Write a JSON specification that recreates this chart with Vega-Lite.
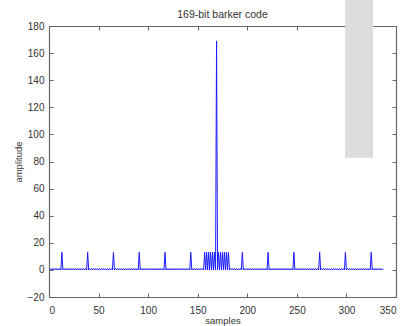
{
 "$schema": "https://vega.github.io/schema/vega-lite/v6.json",
 "width": 347, "height": 271,
 "autosize": {"type": "none"},
 "padding": {"left": 49, "top": 26, "right": 8, "bottom": 29},
 "background": "white",
 "title": {"text": "169-bit barker code", "fontSize": 10.5, "font": "Liberation Sans", "color": "#333333", "fontWeight": "normal", "offset": 0, "dy": 22},
 "config": {
  "view": {"stroke": null},
  "axis": {"domainColor": "#666666", "domainWidth": 1.2, "tickColor": "#666666", "tickSize": -4, "labelPadding": 9, "labelFont": "Liberation Sans", "labelFontSize": 10, "labelColor": "#333333", "titleFont": "Liberation Sans", "titleFontSize": 9.5, "titleFontWeight": "normal", "titleColor": "#333333", "grid": false, "zindex": 1}
 },
 "layer": [
  {
   "data": {"values": [{"x1": 298.6, "x2": 326.8, "y1": 82.7, "y2": 200}]},
   "mark": {"type": "rect", "color": "#dcdcdc", "clip": false},
   "encoding": {
    "x": {"field": "x1", "type": "quantitative", "scale": {"domain": [0, 350], "nice": false}, "axis": {"orient": "top", "labels": false, "title": null, "values": [0, 50, 100, 150, 200, 250, 300, 350]}},
    "x2": {"field": "x2"},
    "y": {"field": "y1", "type": "quantitative", "scale": {"domain": [-20, 180], "nice": false}, "axis": {"orient": "right", "labels": false, "title": null, "values": [-20, 0, 20, 40, 60, 80, 100, 120, 140, 160, 180]}},
    "y2": {"field": "y2"}
   }
  },
  {
   "data": {"values": [
{"x":1,"y":1},{"x":2,"y":0},{"x":3,"y":1},{"x":4,"y":0},{"x":5,"y":1},{"x":6,"y":0},{"x":7,"y":1},{"x":8,"y":0},{"x":9,"y":1},{"x":10,"y":0},
{"x":11,"y":1},{"x":12,"y":0},{"x":13,"y":13},{"x":14,"y":0},{"x":15,"y":1},{"x":16,"y":0},{"x":17,"y":1},{"x":18,"y":0},{"x":19,"y":1},{"x":20,"y":0},
{"x":21,"y":1},{"x":22,"y":0},{"x":23,"y":1},{"x":24,"y":0},{"x":25,"y":1},{"x":26,"y":0},{"x":27,"y":1},{"x":28,"y":0},{"x":29,"y":1},{"x":30,"y":0},
{"x":31,"y":1},{"x":32,"y":0},{"x":33,"y":1},{"x":34,"y":0},{"x":35,"y":1},{"x":36,"y":0},{"x":37,"y":1},{"x":38,"y":0},{"x":39,"y":13},{"x":40,"y":0},
{"x":41,"y":1},{"x":42,"y":0},{"x":43,"y":1},{"x":44,"y":0},{"x":45,"y":1},{"x":46,"y":0},{"x":47,"y":1},{"x":48,"y":0},{"x":49,"y":1},{"x":50,"y":0},
{"x":51,"y":1},{"x":52,"y":0},{"x":53,"y":1},{"x":54,"y":0},{"x":55,"y":1},{"x":56,"y":0},{"x":57,"y":1},{"x":58,"y":0},{"x":59,"y":1},{"x":60,"y":0},
{"x":61,"y":1},{"x":62,"y":0},{"x":63,"y":1},{"x":64,"y":0},{"x":65,"y":13},{"x":66,"y":0},{"x":67,"y":1},{"x":68,"y":0},{"x":69,"y":1},{"x":70,"y":0},
{"x":71,"y":1},{"x":72,"y":0},{"x":73,"y":1},{"x":74,"y":0},{"x":75,"y":1},{"x":76,"y":0},{"x":77,"y":1},{"x":78,"y":0},{"x":79,"y":1},{"x":80,"y":0},
{"x":81,"y":1},{"x":82,"y":0},{"x":83,"y":1},{"x":84,"y":0},{"x":85,"y":1},{"x":86,"y":0},{"x":87,"y":1},{"x":88,"y":0},{"x":89,"y":1},{"x":90,"y":0},
{"x":91,"y":13},{"x":92,"y":0},{"x":93,"y":1},{"x":94,"y":0},{"x":95,"y":1},{"x":96,"y":0},{"x":97,"y":1},{"x":98,"y":0},{"x":99,"y":1},{"x":100,"y":0},
{"x":101,"y":1},{"x":102,"y":0},{"x":103,"y":1},{"x":104,"y":0},{"x":105,"y":1},{"x":106,"y":0},{"x":107,"y":1},{"x":108,"y":0},{"x":109,"y":1},{"x":110,"y":0},
{"x":111,"y":1},{"x":112,"y":0},{"x":113,"y":1},{"x":114,"y":0},{"x":115,"y":1},{"x":116,"y":0},{"x":117,"y":13},{"x":118,"y":0},{"x":119,"y":1},{"x":120,"y":0},
{"x":121,"y":1},{"x":122,"y":0},{"x":123,"y":1},{"x":124,"y":0},{"x":125,"y":1},{"x":126,"y":0},{"x":127,"y":1},{"x":128,"y":0},{"x":129,"y":1},{"x":130,"y":0},
{"x":131,"y":1},{"x":132,"y":0},{"x":133,"y":1},{"x":134,"y":0},{"x":135,"y":1},{"x":136,"y":0},{"x":137,"y":1},{"x":138,"y":0},{"x":139,"y":1},{"x":140,"y":0},
{"x":141,"y":1},{"x":142,"y":0},{"x":143,"y":13},{"x":144,"y":0},{"x":145,"y":1},{"x":146,"y":0},{"x":147,"y":1},{"x":148,"y":0},{"x":149,"y":1},{"x":150,"y":0},
{"x":151,"y":1},{"x":152,"y":0},{"x":153,"y":1},{"x":154,"y":0},{"x":155,"y":1},{"x":156,"y":0},{"x":157,"y":13},{"x":158,"y":0},{"x":159,"y":13},{"x":160,"y":0},
{"x":161,"y":13},{"x":162,"y":0},{"x":163,"y":13},{"x":164,"y":0},{"x":165,"y":13},{"x":166,"y":0},{"x":167,"y":13},{"x":168,"y":0},{"x":169,"y":169},{"x":170,"y":0},
{"x":171,"y":13},{"x":172,"y":0},{"x":173,"y":13},{"x":174,"y":0},{"x":175,"y":13},{"x":176,"y":0},{"x":177,"y":13},{"x":178,"y":0},{"x":179,"y":13},{"x":180,"y":0},
{"x":181,"y":13},{"x":182,"y":0},{"x":183,"y":1},{"x":184,"y":0},{"x":185,"y":1},{"x":186,"y":0},{"x":187,"y":1},{"x":188,"y":0},{"x":189,"y":1},{"x":190,"y":0},
{"x":191,"y":1},{"x":192,"y":0},{"x":193,"y":1},{"x":194,"y":0},{"x":195,"y":13},{"x":196,"y":0},{"x":197,"y":1},{"x":198,"y":0},{"x":199,"y":1},{"x":200,"y":0},
{"x":201,"y":1},{"x":202,"y":0},{"x":203,"y":1},{"x":204,"y":0},{"x":205,"y":1},{"x":206,"y":0},{"x":207,"y":1},{"x":208,"y":0},{"x":209,"y":1},{"x":210,"y":0},
{"x":211,"y":1},{"x":212,"y":0},{"x":213,"y":1},{"x":214,"y":0},{"x":215,"y":1},{"x":216,"y":0},{"x":217,"y":1},{"x":218,"y":0},{"x":219,"y":1},{"x":220,"y":0},
{"x":221,"y":13},{"x":222,"y":0},{"x":223,"y":1},{"x":224,"y":0},{"x":225,"y":1},{"x":226,"y":0},{"x":227,"y":1},{"x":228,"y":0},{"x":229,"y":1},{"x":230,"y":0},
{"x":231,"y":1},{"x":232,"y":0},{"x":233,"y":1},{"x":234,"y":0},{"x":235,"y":1},{"x":236,"y":0},{"x":237,"y":1},{"x":238,"y":0},{"x":239,"y":1},{"x":240,"y":0},
{"x":241,"y":1},{"x":242,"y":0},{"x":243,"y":1},{"x":244,"y":0},{"x":245,"y":1},{"x":246,"y":0},{"x":247,"y":13},{"x":248,"y":0},{"x":249,"y":1},{"x":250,"y":0},
{"x":251,"y":1},{"x":252,"y":0},{"x":253,"y":1},{"x":254,"y":0},{"x":255,"y":1},{"x":256,"y":0},{"x":257,"y":1},{"x":258,"y":0},{"x":259,"y":1},{"x":260,"y":0},
{"x":261,"y":1},{"x":262,"y":0},{"x":263,"y":1},{"x":264,"y":0},{"x":265,"y":1},{"x":266,"y":0},{"x":267,"y":1},{"x":268,"y":0},{"x":269,"y":1},{"x":270,"y":0},
{"x":271,"y":1},{"x":272,"y":0},{"x":273,"y":13},{"x":274,"y":0},{"x":275,"y":1},{"x":276,"y":0},{"x":277,"y":1},{"x":278,"y":0},{"x":279,"y":1},{"x":280,"y":0},
{"x":281,"y":1},{"x":282,"y":0},{"x":283,"y":1},{"x":284,"y":0},{"x":285,"y":1},{"x":286,"y":0},{"x":287,"y":1},{"x":288,"y":0},{"x":289,"y":1},{"x":290,"y":0},
{"x":291,"y":1},{"x":292,"y":0},{"x":293,"y":1},{"x":294,"y":0},{"x":295,"y":1},{"x":296,"y":0},{"x":297,"y":1},{"x":298,"y":0},{"x":299,"y":13},{"x":300,"y":0},
{"x":301,"y":1},{"x":302,"y":0},{"x":303,"y":1},{"x":304,"y":0},{"x":305,"y":1},{"x":306,"y":0},{"x":307,"y":1},{"x":308,"y":0},{"x":309,"y":1},{"x":310,"y":0},
{"x":311,"y":1},{"x":312,"y":0},{"x":313,"y":1},{"x":314,"y":0},{"x":315,"y":1},{"x":316,"y":0},{"x":317,"y":1},{"x":318,"y":0},{"x":319,"y":1},{"x":320,"y":0},
{"x":321,"y":1},{"x":322,"y":0},{"x":323,"y":1},{"x":324,"y":0},{"x":325,"y":13},{"x":326,"y":0},{"x":327,"y":1},{"x":328,"y":0},{"x":329,"y":1},{"x":330,"y":0},
{"x":331,"y":1},{"x":332,"y":0},{"x":333,"y":1},{"x":334,"y":0},{"x":335,"y":1},{"x":336,"y":0},{"x":337,"y":1}
   ]},
   "mark": {"type": "line", "color": "#1a1aff", "strokeWidth": 1},
   "encoding": {
    "x": {"field": "x", "type": "quantitative", "scale": {"domain": [0, 350], "nice": false}, "axis": {"orient": "bottom", "title": "samples", "titlePadding": 0, "labelPadding": 12, "values": [0, 50, 100, 150, 200, 250, 300, 350]}},
    "y": {"field": "y", "type": "quantitative", "scale": {"domain": [-20, 180], "nice": false}, "axis": {"orient": "left", "title": "amplitude", "titlePadding": 4, "values": [-20, 0, 20, 40, 60, 80, 100, 120, 140, 160, 180]}}
   }
  }
 ]
}
